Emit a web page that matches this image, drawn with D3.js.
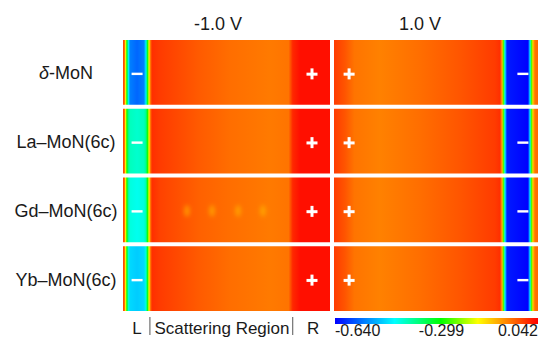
<!DOCTYPE html>
<html>
<head>
<meta charset="utf-8">
<script src="https://cdn.jsdelivr.net/npm/d3@7"></script>
<style>
  body { margin: 0; background: #fff; }
  text { font-family: "Liberation Sans", Arial, sans-serif; fill: #1a1a1a; }
</style>
</head>
<body>
<div id="chart"></div>
<script>
// bias columns and systems (rows)
var biases = ["-1.0 V", "1.0 V"];
var systems = ["δ-MoN", "La–MoN(6c)", "Gd–MoN(6c)", "Yb–MoN(6c)"];

// colour bar (potential, eV)
var barTicks = [-0.640, -0.299, 0.042];
var stopValues = [-0.640, -0.440, -0.285, -0.160, 0.042];
var stopColors = ["#0000ff", "#00ffff", "#00ff00", "#ffff00", "#ff0000"];

// positions along transport direction, 0 = left edge, 100 = right edge of a panel
var leftPos = [0, 0.6, 1.2, 1.9, 2.7, 3.4, 6.8, 10.1, 11.1, 11.8, 12.6, 13.3, 14, 18, 37, 52, 71, 80, 82, 85.5, 100];
var leftDelta = [-0.02, -0.02, -0.15, -0.30, -0.45, -0.54, -0.56, -0.54, -0.45, -0.30, -0.15, -0.05, 0.005, -0.005, -0.03, -0.045, -0.055, -0.05, 0.01, 0.03, 0.03];
var leftLa    = [-0.02, -0.02, -0.15, -0.28, -0.37, -0.40, -0.41, -0.40, -0.37, -0.28, -0.15, -0.05, 0.005, -0.005, -0.03, -0.045, -0.055, -0.05, 0.01, 0.03, 0.03];
var leftGd    = [-0.02, -0.02, -0.15, -0.28, -0.39, -0.42, -0.43, -0.42, -0.39, -0.28, -0.15, -0.05, 0.005, -0.01, -0.035, -0.045, -0.055, -0.05, 0.01, 0.03, 0.03];
var leftYb    = [-0.02, -0.02, -0.15, -0.30, -0.42, -0.47, -0.48, -0.47, -0.42, -0.30, -0.15, -0.05, 0.005, -0.005, -0.03, -0.045, -0.055, -0.05, 0.01, 0.03, 0.03];

var rightPos = [0, 5.4, 10, 22.5, 42, 62, 79, 81.4, 82.4, 83.1, 83.8, 84.8, 95.1, 96.1, 96.8, 97.5, 98.5, 100];
var rightDelta = [-0.005, -0.025, -0.05, -0.06, -0.045, -0.025, -0.005, 0.005, -0.10, -0.25, -0.45, -0.62, -0.64, -0.45, -0.25, -0.12, -0.05, -0.04];
var rightLa    = [-0.005, -0.025, -0.05, -0.06, -0.045, -0.025, -0.005, 0.005, -0.10, -0.25, -0.45, -0.62, -0.64, -0.45, -0.25, -0.12, -0.05, -0.04];
var rightGd    = [-0.005, -0.025, -0.05, -0.06, -0.045, -0.025, -0.005, 0.005, -0.10, -0.25, -0.45, -0.62, -0.64, -0.45, -0.25, -0.12, -0.05, -0.04];
var rightYb    = [-0.005, -0.025, -0.05, -0.06, -0.045, -0.025, -0.005, 0.005, -0.10, -0.25, -0.45, -0.62, -0.64, -0.45, -0.25, -0.12, -0.05, -0.04];

// faint bright spots in the Gd scattering region (position, value)
var gdSpotPos = [30.9, 43, 55.6, 67.6];
var gdSpotVal = [-0.11, -0.11, -0.11, -0.11];

// electrode signs
var leftSignPos = [6.8, 91.3];
var leftSigns = ["-", "+"];
var rightSignPos = [7.4, 92.6];
var rightSigns = ["+", "-"];

// region labels under the -1.0 V panel
var regionLabels = ["L", "Scattering Region", "R"];
var regionPos = [6.8, 47.8, 91.8];
var regionSeps = [13, 82];

var W = 540, H = 339;
var svg = d3.select("#chart").append("svg")
    .attr("width", W).attr("height", H);
var defs = svg.append("defs");

var color = d3.scaleLinear().domain(stopValues).range(stopColors).clamp(true);

var panels = [
  { x0: 123, x1: 330, pos: leftPos, rows: [leftDelta, leftLa, leftGd, leftYb], signPos: leftSignPos, signs: leftSigns },
  { x0: 334, x1: 538, pos: rightPos, rows: [rightDelta, rightLa, rightGd, rightYb], signPos: rightSignPos, signs: rightSigns }
];
panels.forEach(function(p) { p.x = d3.scaleLinear().domain([0, 100]).range([p.x0, p.x1]); });

var y = d3.scaleBand().domain(systems).range([40, 311]).paddingInner(4 / 68.75);

// blur for spots
defs.append("filter").attr("id", "blur")
    .attr("x", "-100%").attr("y", "-100%").attr("width", "300%").attr("height", "300%")
  .append("feGaussianBlur").attr("stdDeviation", 2.2);

panels.forEach(function(p, pi) {
  systems.forEach(function(s, ri) {
    var id = "g" + pi + "_" + ri;
    var grad = defs.append("linearGradient").attr("id", id)
        .attr("x1", "0%").attr("x2", "100%").attr("y1", "0%").attr("y2", "0%");
    grad.selectAll("stop").data(p.pos).enter().append("stop")
        .attr("offset", function(d) { return d + "%"; })
        .attr("stop-color", function(d, i) { return color(p.rows[ri][i]); });

    svg.append("rect")
        .attr("x", p.x0).attr("y", y(s))
        .attr("width", p.x1 - p.x0).attr("height", y.bandwidth())
        .attr("fill", "url(#" + id + ")");

    // electrode signs
    var gs = svg.append("g");
    p.signs.forEach(function(sg, k) {
      var cx = p.x(p.signPos[k]), cy = y(s) + y.bandwidth() / 2 + 1.5;
      gs.append("rect").attr("x", cx - 5.5).attr("y", cy - 1.2)
        .attr("width", 11).attr("height", sg === "+" ? 3 : 2.4).attr("fill", "#fff");
      if (sg === "+") {
        gs.append("rect").attr("x", cx - 1.5).attr("y", cy - 5.5)
          .attr("width", 3).attr("height", 11).attr("fill", "#fff");
      }
    });
  });
});

// Gd spots (left panel)
var gdRow = systems[2];
svg.append("g").attr("filter", "url(#blur)")
  .selectAll("ellipse").data(gdSpotPos).enter().append("ellipse")
    .attr("cx", function(d) { return panels[0].x(d); })
    .attr("cy", y(gdRow) + y.bandwidth() / 2 + 1)
    .attr("rx", 3).attr("ry", 6)
    .attr("fill", function(d, i) { return color(gdSpotVal[i]); })
    .attr("opacity", 0.55);

// column titles
svg.selectAll("text.title").data(biases).enter().append("text")
    .attr("class", "title")
    .attr("x", function(d, i) { return i === 0 ? 218 : 420; })
    .attr("y", 30)
    .attr("text-anchor", "middle")
    .attr("font-size", 18)
    .text(function(d) { return d; });

// row labels
var rl = svg.selectAll("text.row").data(systems).enter().append("text")
    .attr("class", "row")
    .attr("x", 66)
    .attr("y", function(d) { return y(d) + y.bandwidth() / 2 + 7; })
    .attr("text-anchor", "middle")
    .attr("font-size", 18);
rl.each(function(d) {
  var t = d3.select(this);
  if (d.charAt(0) === "δ") {
    t.append("tspan").attr("font-style", "italic").text("δ");
    t.append("tspan").text(d.slice(1));
  } else {
    t.text(d);
  }
});

// region labels
var xl = panels[0].x;
svg.selectAll("text.region").data(regionLabels).enter().append("text")
    .attr("class", "region")
    .attr("x", function(d, i) { return xl(regionPos[i]); })
    .attr("y", 334)
    .attr("text-anchor", "middle")
    .attr("font-size", 17)
    .text(function(d) { return d; });
svg.selectAll("line.sep").data(regionSeps).enter().append("line")
    .attr("class", "sep")
    .attr("x1", function(d) { return xl(d); }).attr("x2", function(d) { return xl(d); })
    .attr("y1", 317).attr("y2", 335)
    .attr("stroke", "#555").attr("stroke-width", 1);

// colour bar
var cb = d3.scaleLinear().domain([-0.640, 0.042]).range([335, 538]);
var cbGrad = defs.append("linearGradient").attr("id", "cbar")
    .attr("x1", "0%").attr("x2", "100%").attr("y1", "0%").attr("y2", "0%");
cbGrad.selectAll("stop").data(stopValues).enter().append("stop")
    .attr("offset", function(d) { return ((cb(d) - 335) / (538 - 335) * 100) + "%"; })
    .attr("stop-color", function(d, i) { return stopColors[i]; });
svg.append("rect").attr("x", 335).attr("y", 318)
    .attr("width", 203).attr("height", 6).attr("fill", "url(#cbar)");
svg.selectAll("text.tick").data(barTicks).enter().append("text")
    .attr("class", "tick")
    .attr("x", function(d, i) { return i === 1 ? cb(d) + 5 : cb(d); })
    .attr("y", 336)
    .attr("text-anchor", function(d, i) { return i === 0 ? "start" : i === 2 ? "end" : "middle"; })
    .attr("font-size", 16)
    .text(function(d) { return d.toFixed(3); });
</script>
</body>
</html>
